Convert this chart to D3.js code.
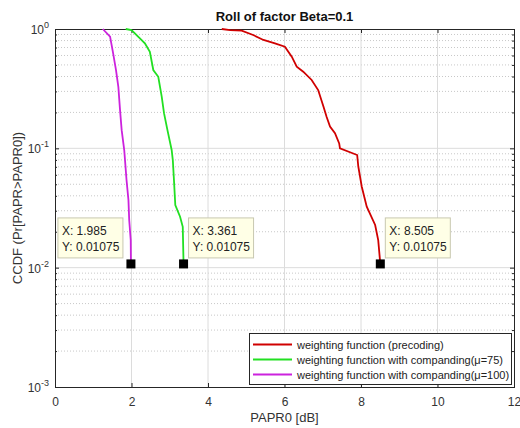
<!DOCTYPE html>
<html>
<head>
<meta charset="utf-8">
<script src="https://cdn.jsdelivr.net/npm/d3@7"></script>
<style>
  body { margin: 0; background: #fff; }
  text { font-family: "Liberation Sans", Arial, sans-serif; }
</style>
</head>
<body>
<svg id="chart" width="520" height="428"></svg>
<script>
// series: [PAPR0 dB, CCDF]
var precoding = [
  [4.36, 1.0], [4.58, 0.98], [4.88, 0.968], [5.18, 0.891], [5.45, 0.809],
  [5.75, 0.759], [6.01, 0.711], [6.19, 0.586], [6.32, 0.483], [6.49, 0.439],
  [6.71, 0.374], [6.88, 0.308], [7.02, 0.223], [7.10, 0.184], [7.19, 0.152],
  [7.32, 0.134], [7.43, 0.110], [7.45, 0.100], [7.90, 0.0879], [7.93, 0.0701],
  [8.02, 0.0477], [8.15, 0.0324], [8.37, 0.0228], [8.45, 0.017], [8.505, 0.01075]
]
var companding75 = [
  [1.85, 1.0], [2.0, 0.98], [2.22, 0.836], [2.35, 0.759], [2.48, 0.645],
  [2.57, 0.453], [2.70, 0.398], [2.79, 0.271], [2.85, 0.197], [2.94, 0.142],
  [3.05, 0.0968], [3.08, 0.0798], [3.11, 0.0543], [3.145, 0.0335], [3.27, 0.0267],
  [3.34, 0.022], [3.361, 0.01075]
]
var companding100 = [
  [1.25, 1.0], [1.44, 0.862], [1.52, 0.625], [1.595, 0.453], [1.656, 0.328],
  [1.70, 0.21], [1.743, 0.142], [1.81, 0.0968], [1.83, 0.0798], [1.87, 0.0543],
  [1.92, 0.0369], [1.94, 0.0251], [1.98, 0.017], [1.985, 0.01075]
]
var seriesNames = [
  "weighting function (precoding)",
  "weighting function with companding(\u03bc=75)",
  "weighting function with companding(\u03bc=100)"
]
var seriesColors = ["#d00000", "#22e022", "#cc22dd"]
var dataTips = [
  {x: 1.985, y: 0.01075, side: "left"},
  {x: 3.361, y: 0.01075, side: "right"},
  {x: 8.505, y: 0.01075, side: "right"}
]
var xTicks = [0, 2, 4, 6, 8, 10, 12]
var yExps = [0, -1, -2, -3]

var svg = d3.select("#chart")
var plotL = 55, plotR = 514, plotT = 29, plotB = 387
var axisColor = "#262626"

var x = d3.scaleLinear().domain([0, 12]).range([plotL, plotR])
var y = d3.scaleLog().domain([1e-3, 1]).range([plotB, plotT])

// grid
var minorY = []
yExps.slice(1).forEach(function(e) {
  for (var k = 2; k <= 9; k++) minorY.push(k * Math.pow(10, e))
})
svg.append("g").selectAll("line").data(minorY).enter().append("line")
  .attr("x1", plotL).attr("x2", plotR)
  .attr("y1", function(d) { return y(d) }).attr("y2", function(d) { return y(d) })
  .attr("stroke", "#c8c8c8").attr("stroke-dasharray", "1,2").attr("stroke-width", 1)
svg.append("g").selectAll("line").data(yExps.slice(1, 3)).enter().append("line")
  .attr("x1", plotL).attr("x2", plotR)
  .attr("y1", function(d) { return y(Math.pow(10, d)) })
  .attr("y2", function(d) { return y(Math.pow(10, d)) })
  .attr("stroke", "#dcdcdc")
svg.append("g").selectAll("line").data(xTicks.slice(1, -1)).enter().append("line")
  .attr("y1", plotT).attr("y2", plotB)
  .attr("x1", function(d) { return x(d) }).attr("x2", function(d) { return x(d) })
  .attr("stroke", "#dcdcdc")

// axes
var xAxis = d3.axisBottom(x).tickValues(xTicks).tickSize(-4).tickPadding(10)
  .tickFormat(d3.format("d"))
var gx = svg.append("g").attr("transform", "translate(0," + plotB + ")").call(xAxis)
svg.append("g").attr("transform", "translate(0," + plotT + ")")
  .call(d3.axisTop(x).tickValues(xTicks).tickSize(-4).tickFormat(""))

var majorY = yExps.map(function(e) { return Math.pow(10, e) })
svg.append("g").attr("transform", "translate(" + plotL + ",0)")
  .call(d3.axisLeft(y).tickValues(majorY).tickSize(-4).tickFormat(""))
svg.append("g").attr("transform", "translate(" + plotR + ",0)")
  .call(d3.axisRight(y).tickValues(majorY).tickSize(-4).tickFormat(""))
svg.append("g").attr("transform", "translate(" + plotL + ",0)")
  .call(d3.axisLeft(y).tickValues(minorY).tickSize(-2).tickFormat(""))
svg.append("g").attr("transform", "translate(" + plotR + ",0)")
  .call(d3.axisRight(y).tickValues(minorY).tickSize(-2).tickFormat(""))

svg.selectAll(".domain").attr("stroke", axisColor)
svg.selectAll(".tick line").attr("stroke", axisColor)
gx.selectAll("text").attr("fill", "#333").style("font-size", "12px")

// y tick labels with exponents
var yl = svg.append("g").selectAll("text").data(yExps).enter().append("text")
  .attr("x", 49).attr("y", function(d) { return y(Math.pow(10, d)) + 5 })
  .attr("text-anchor", "end").attr("fill", "#333").style("font-size", "12px")
yl.append("tspan").text("10")
yl.append("tspan").attr("dy", -6).style("font-size", "9px")
  .text(function(d) { return d })

// curves
var line = d3.line()
  .x(function(d) { return x(d[0]) })
  .y(function(d) { return y(d[1]) })
var allSeries = [precoding, companding75, companding100]
svg.append("g").selectAll("path").data(allSeries).enter().append("path")
  .attr("d", line).attr("fill", "none")
  .attr("stroke", function(d, i) { return seriesColors[i] })
  .attr("stroke-width", 1.8)

// data tips
dataTips.forEach(function(t) {
  var px = x(t.x), py = y(t.y)
  var bw = 65, bh = 40
  var bx = t.side === "left" ? px - 8 - bw : px + 5
  var by = py - 46
  svg.append("rect").attr("x", bx).attr("y", by).attr("width", bw).attr("height", bh)
    .attr("fill", "#ffffe6").attr("stroke", "#c8c8b0")
  svg.append("text").attr("x", bx + 4).attr("y", by + 17)
    .attr("fill", "#222").style("font-size", "12px").text("X: " + t.x)
  svg.append("text").attr("x", bx + 4).attr("y", by + 33)
    .attr("fill", "#222").style("font-size", "12px").text("Y: " + t.y)
  svg.append("rect").attr("x", px - 4.5).attr("y", py - 4.5)
    .attr("width", 9).attr("height", 9).attr("fill", "#000")
})

// legend
var lg = svg.append("g")
lg.append("rect").attr("x", 249.5).attr("y", 333.5).attr("width", 262).attr("height", 51)
  .attr("fill", "#fff").attr("stroke", axisColor)
seriesNames.forEach(function(name, i) {
  var ly = 344.5 + i * 15
  lg.append("line").attr("x1", 253).attr("x2", 292).attr("y1", ly).attr("y2", ly)
    .attr("stroke", seriesColors[i]).attr("stroke-width", 1.8)
  lg.append("text").attr("x", 297).attr("y", ly + 4).attr("fill", "#222")
    .style("font-size", "11px").text(name)
})

// titles
svg.append("text").attr("x", (plotL + plotR) / 2).attr("y", 21)
  .attr("text-anchor", "middle").style("font-size", "13px").style("font-weight", "bold")
  .attr("fill", "#111").text("Roll of factor Beta=0.1")
svg.append("text").attr("x", (plotL + plotR) / 2).attr("y", 422)
  .attr("text-anchor", "middle").style("font-size", "13px").attr("fill", "#333")
  .text("PAPR0 [dB]")
svg.append("text").attr("transform", "translate(22," + (plotT + plotB) / 2 + ") rotate(-90)")
  .attr("text-anchor", "middle").style("font-size", "13px").attr("fill", "#333")
  .text("CCDF (Pr[PAPR>PAPR0])")
</script>
</body>
</html>
